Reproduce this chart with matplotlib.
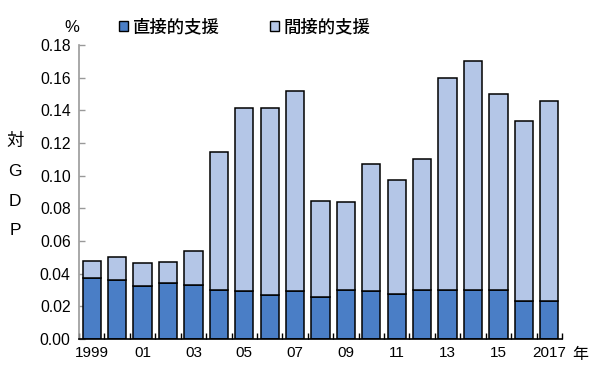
import matplotlib
matplotlib.use("Agg")
import matplotlib.pyplot as plt
import numpy as np
from matplotlib.patches import Patch

years = list(range(1999, 2018))
tick_labels = ["1999", "", "01", "", "03", "", "05", "", "07", "", "09", "", "11", "", "13", "", "15", "", "2017"]
direct = [0.0372, 0.0362, 0.0322, 0.0340, 0.0329, 0.0298, 0.0294, 0.0267, 0.0292, 0.0257,
          0.0298, 0.0294, 0.0274, 0.0302, 0.0302, 0.0302, 0.0302, 0.0233, 0.0233]
total = [0.0480, 0.0500, 0.0464, 0.0473, 0.0539, 0.1143, 0.1416, 0.1416, 0.1520, 0.0847,
         0.0839, 0.1072, 0.0975, 0.1100, 0.1600, 0.1700, 0.1500, 0.1337, 0.1457]
indirect = [t - d for t, d in zip(total, direct)]

c_direct = "#4A7EC6"
c_indirect = "#B4C6E7"
jp = ["Noto Sans CJK JP", "DejaVu Sans"]
num = ["Liberation Sans", "DejaVu Sans"]

fig = plt.figure(figsize=(6, 3.67), dpi=100)
ax = fig.add_axes([79/600, 1-339/367, (562-79)/600, (339-45)/367])

x = np.arange(len(years))
ax.bar(x, direct, width=0.72, color=c_direct, edgecolor="black", linewidth=1.1, zorder=3)
ax.bar(x, indirect, bottom=direct, width=0.72, color=c_indirect, edgecolor="black", linewidth=1.1, zorder=3)

ax.set_xlim(-0.5, len(years) - 0.5)
ax.set_ylim(0, 0.18)
ax.set_yticks(np.arange(0, 0.181, 0.02))
ax.set_yticklabels([f"{v:.2f}" for v in np.arange(0, 0.181, 0.02)], fontfamily=num, fontsize=11.3)
ax.set_xticks(x)
ax.set_xticklabels(tick_labels, fontfamily=num, fontsize=11)
ax.tick_params(axis="x", which="major", length=0, pad=5)
ax.set_xticks(np.arange(-0.5, len(years), 1.0), minor=True)
ax.tick_params(axis="x", which="minor", direction="in", length=4, color="black", width=1)
ax.tick_params(axis="y", direction="in", length=4, color="#999999", width=1, pad=6)

for s in ["top", "right"]:
    ax.spines[s].set_visible(False)
ax.spines["left"].set_color("#999999")
ax.spines["left"].set_linewidth(1.2)
ax.spines["bottom"].set_color("black")
ax.spines["bottom"].set_linewidth(1.2)
ax.spines["bottom"].set_zorder(4)

handles = [Patch(facecolor=c_direct, edgecolor="black", linewidth=1.0, label="直接的支援"),
           Patch(facecolor=c_indirect, edgecolor="black", linewidth=1.0, label="間接的支援")]
leg = ax.legend(handles=handles, loc="center left", bbox_to_anchor=(110/600, 1-27/367),
                bbox_transform=fig.transFigure, ncol=2, frameon=False, borderpad=0,
                handlelength=0.55, handleheight=0.55, handletextpad=0.25, columnspacing=2.9,
                prop={"family": jp, "size": 12.5, "weight": "medium"})

fig.text(72/600, 1-27/367, "%", fontfamily=num, fontsize=12, ha="center", va="center")
for ch, yy in zip(["対", "G", "D", "P"], [141, 171, 201, 230]):
    fig.text(15/600, 1-yy/367, ch, fontfamily=jp if ch == "対" else num, fontsize=12.5,
             ha="center", va="center")
fig.text(580/600, 1-355/367, "年", fontfamily=jp, fontsize=11.5, ha="center", va="center")

fig.savefig("out.png", dpi=100, facecolor="white")
